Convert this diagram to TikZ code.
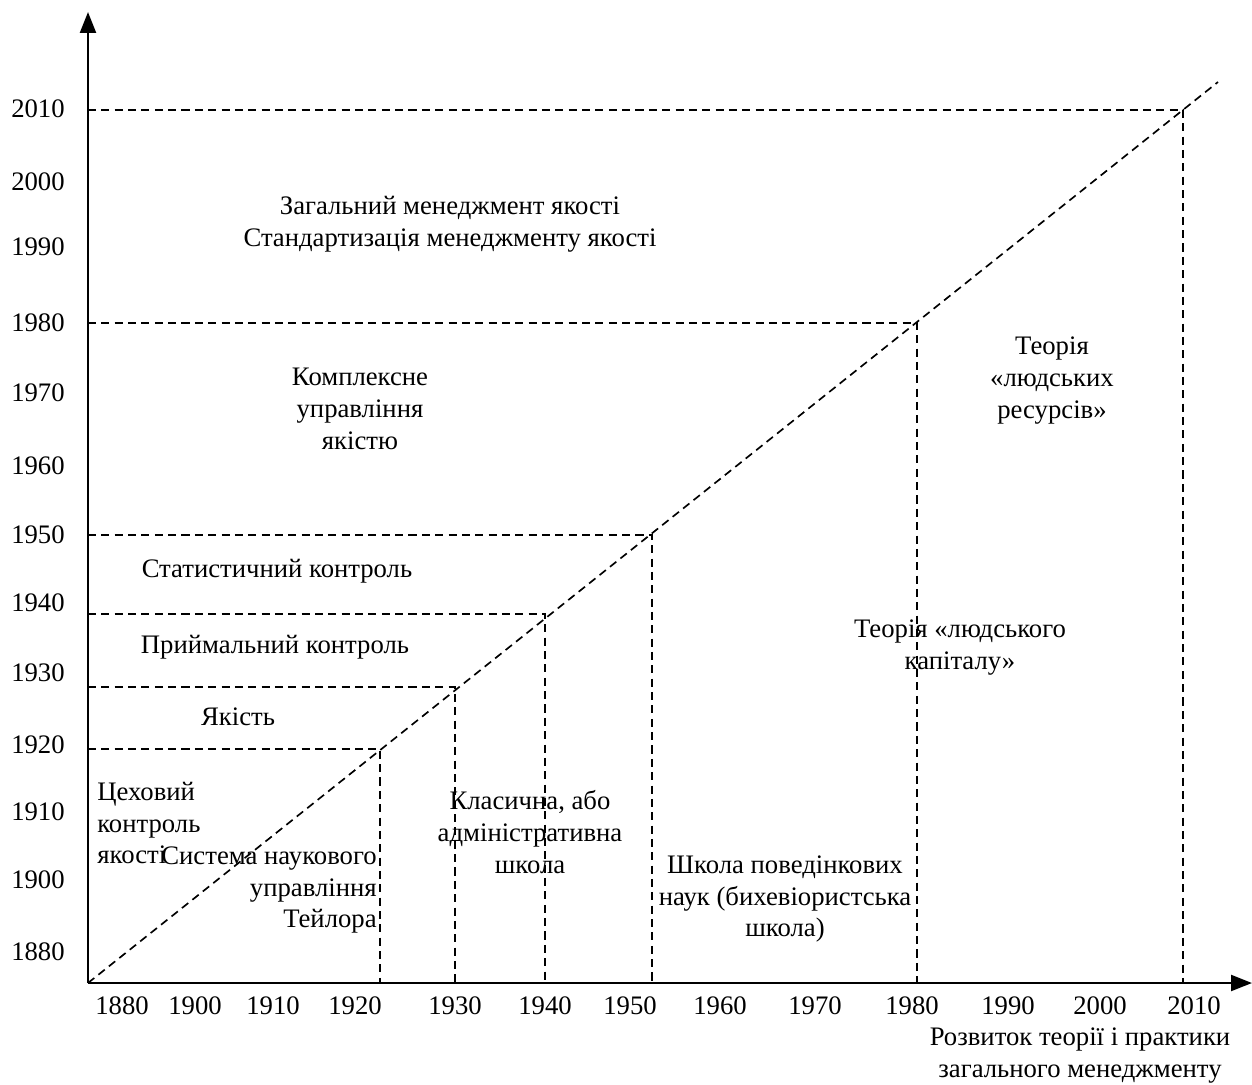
\documentclass[tikz,border=0pt]{standalone}
\usepackage{fontspec}
\setmainfont{Liberation Serif}
\usetikzlibrary{arrows.meta}
\begin{document}
\begin{tikzpicture}[x=0.02cm,y=-0.02cm,>={Triangle[length=0.42cm,width=0.32cm]},font=\fontsize{15.2}{18.2}\selectfont]
    \tikzstyle{axis}=[line width=1.3pt]
    \tikzstyle{guide}=[line width=0.95pt, dash pattern=on 4.6pt off 3pt]
    \tikzstyle{label}=[inner sep=0pt, align=center]
    \useasboundingbox (0,0) rectangle (1252,1085);
    % axes
    \coordinate (o) at (88,983);
    \coordinate (ytop) at (88,12);
    \coordinate (xend) at (1252,983);
    \draw[axis,->] (o) -- (ytop);
    \draw[axis,->] (o) -- (xend);
    % diagonal
    \coordinate (diag) at (1218,82);
    \draw[guide] (o) -- (diag);
    % stage borders
    \coordinate (d1920) at (380,749);
    \coordinate (d1930) at (455,687);
    \coordinate (d1940) at (545,614);
    \coordinate (d1950) at (652,535);
    \coordinate (d1980) at (917,323);
    \coordinate (d2010) at (1183,110);
    \foreach \d in {d1920,d1930,d1940,d1950,d1980,d2010}
      \draw[guide] (o |- \d) -- (\d) -- (\d |- o);
    % y labels
    \foreach \y/\t in {109/2010,182/2000,247/1990,323/1980,393/1970,466/1960,535/1950,603/1940,673/1930,745/1920,812/1910,880/1900,952/1880}
      \node[label] (y\t) at (38,\y) {\t};
    % x labels
    \foreach \x/\t in {122/1880,195/1900,273/1910,355/1920,455/1930,545/1940,630/1950,720/1960,815/1970,912/1980,1008/1990,1100/2000,1194/2010}
      \node[label] (x\t) at (\x,1006) {\t};
    \node[label] (xtitle) at (1080,1056) {Розвиток теорії і практики\\загального менеджменту};
    % quality stages
    \node[label] (tqm) at (450,224) {Загальний менеджмент якості\\Стандартизація менеджменту якості};
    \node[label] (complex) at (360,409) {Комплексне\\управління\\якістю};
    \node[label] (stat) at (277,571) {Статистичний контроль};
    \node[label] (accept) at (275,647) {Приймальний контроль};
    \node[label] (quality) at (238,717) {Якість};
    \node[label, align=left, anchor=west] (guild) at (97,823) {Цеховий\\контроль\\якості};
    % management schools
    \node[label, align=right, anchor=east] (taylor) at (377,890) {Система наукового\\управління\\Тейлора};
    \node[label] (classic) at (530,832) {Класична, або\\адміністративна\\школа};
    \node[label] (behav) at (785,899) {Школа поведінкових\\наук (бихевіористська\\школа)};
    \node[label] (capital) at (960,648) {Теорія «людського\\капіталу»};
    \node[label] (resources) at (1052,381) {Теорія\\«людських\\ресурсів»};
  \end{tikzpicture}
\end{document}
